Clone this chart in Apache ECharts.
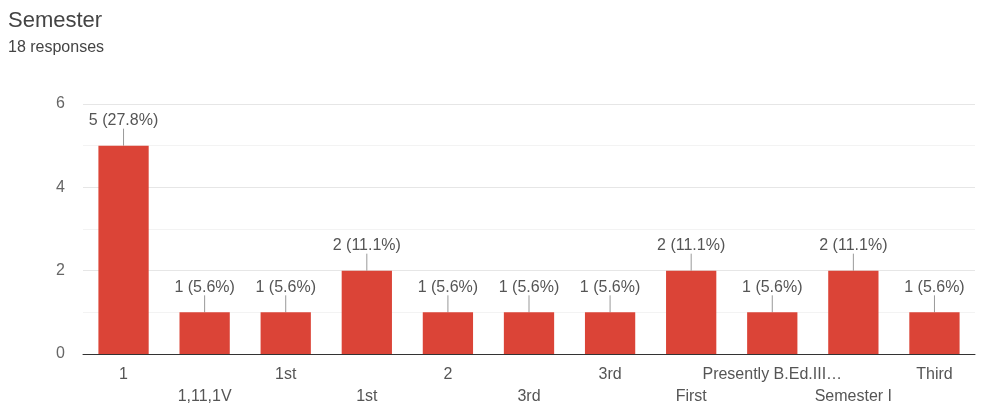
<!DOCTYPE html>
<html><head><meta charset="utf-8">
<script src="https://cdn.jsdelivr.net/npm/echarts@6/dist/echarts.min.js"></script>
<style>html,body{margin:0;padding:0;background:#fff;}#c{width:992px;height:409px;}</style>
</head><body><div id="c"></div>
<script>
const categories = ['1', '1,11,1V', '1st', '1st', '2', '3rd', '3rd', 'First', 'Presently B.Ed.III\u2026', 'Semester I', 'Third'];
const counts = [5, 1, 1, 2, 1, 1, 1, 2, 1, 2, 1];
const percents = ['27.8%', '5.6%', '5.6%', '11.1%', '5.6%', '5.6%', '5.6%', '11.1%', '5.6%', '11.1%', '5.6%'];
const yTicks = [0, 2, 4, 6];

const chart = echarts.init(document.getElementById('c'));
chart.setOption({
  animation: false,
  textStyle: { fontFamily: '"Liberation Sans", Arial, sans-serif' },
  title: {
    text: 'Semester', subtext: '18 responses', left: 3, top: 5, itemGap: 8,
    textStyle: { fontSize: 22, fontWeight: 'normal', color: '#444', fontFamily: '"Liberation Sans", Arial, sans-serif' },
    subtextStyle: { fontSize: 16, color: '#444', fontFamily: '"Liberation Sans", Arial, sans-serif' }
  },
  grid: { left: 83, right: 17, top: 104, bottom: 55 },
  xAxis: {
    type: 'category', data: categories,
    axisTick: { show: false },
    axisLine: { lineStyle: { color: '#333', width: 1 } },
    axisLabel: {
      interval: 0, color: '#555', fontSize: 16, margin: 10, lineHeight: 22,
      formatter: (v, i) => (i % 2 ? '\n' + v : v)
    }
  },
  yAxis: {
    type: 'value', min: 0, max: 6, interval: 1,
    axisLine: { show: false }, axisTick: { show: false },
    axisLabel: {
      color: '#666', fontSize: 16, margin: 18,
      formatter: v => (yTicks.includes(v) ? String(v) : '')
    },
    splitLine: { lineStyle: { color: ['#e6e6e6', '#f3f3f3'] } }
  },
  series: [{
    type: 'bar', data: counts, barWidth: '62%',
    itemStyle: { color: '#db4437' },
    label: {
      show: true, position: 'top', color: '#555', fontSize: 16,
      formatter: p => p.value + ' (' + percents[p.dataIndex] + ')'
    },
    labelLayout: { dy: -12 },
    labelLine: { show: true, lineStyle: { color: '#999', width: 1 } }
  }]
});
</script></body></html>
